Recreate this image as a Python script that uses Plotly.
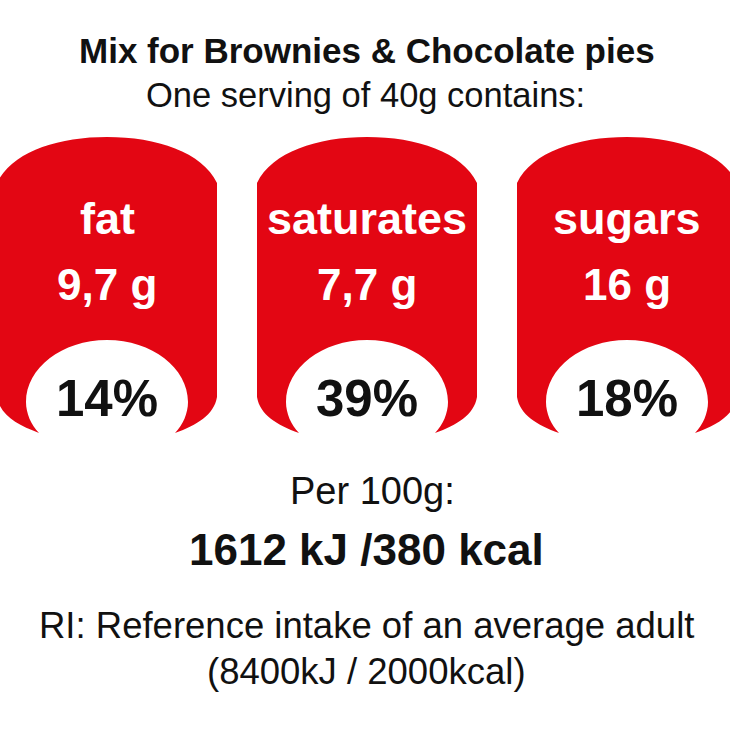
import plotly.graph_objects as go

title = "Mix for Brownies & Chocolate pies"
subtitle = "One serving of 40g contains:"
nutrients = ["fat", "saturates", "sugars"]
amounts = ["9,7 g", "7,7 g", "16 g"]
percents = ["14%", "39%", "18%"]
per_100_label = "Per 100g:"
energy = "1612 kJ /380 kcal"
ri_lines = ["RI: Reference intake of an average adult", "(8400kJ / 2000kcal)"]

RED = "#e30613"
FONT = "Liberation Sans"


def label_path(cx):
    # red can shape with the white bite at the bottom
    def p(dx, y):
        return f"{cx + dx},{y}"
    return (
        f"M {p(-110, 183)} C {p(-95, 152)} {p(-50, 137)} {p(0, 137)} "
        f"C {p(50, 137)} {p(95, 152)} {p(110, 183)} "
        f"L {p(110, 397)} C {p(107, 415)} {p(90, 425)} {p(68, 433)} "
        f"C {p(76, 425)} {p(81, 413)} {p(81, 402)} "
        f"C {p(81, 368)} {p(45, 340)} {p(0, 340)} "
        f"C {p(-45, 340)} {p(-81, 368)} {p(-81, 402)} "
        f"C {p(-81, 413)} {p(-76, 425)} {p(-68, 433)} "
        f"C {p(-90, 425)} {p(-107, 415)} {p(-110, 397)} Z"
    )


def add_text(fig, x, y, text, size, color="#111111", bold=False):
    if bold:
        text = f"<b>{text}</b>"
    fig.add_annotation(x=x, y=y, text=text, showarrow=False, xanchor="center", yanchor="middle",
                       font=dict(family=FONT, size=size, color=color))


fig = go.Figure()

add_text(fig, 367, 50, title, 35, bold=True)
add_text(fig, 365.5, 95, subtitle, 34.5)

for i, name in enumerate(nutrients):
    cx = 107 + 260 * i
    fig.add_shape(type="path", path=label_path(cx), fillcolor=RED, line_width=0, layer="below")
    add_text(fig, cx, 218, name, 45, color="white", bold=True)
    add_text(fig, cx, 284, amounts[i], 44, color="white", bold=True)
    add_text(fig, cx, 398, percents[i], 51, color="#111111", bold=True)

add_text(fig, 372.5, 491, per_100_label, 38)
add_text(fig, 366, 549, energy, 44, bold=True)
add_text(fig, 366, 625, ri_lines[0], 36.5)
add_text(fig, 366, 671, ri_lines[1], 36.5)

fig.update_xaxes(range=[0, 730], visible=False, fixedrange=True)
fig.update_yaxes(range=[730, 0], visible=False, fixedrange=True)
fig.update_layout(width=730, height=730, margin=dict(l=0, r=0, t=0, b=0),
                  paper_bgcolor="white", plot_bgcolor="white", showlegend=False)

# page margin would push the figure off by 8px
fig.write_html("out.html", config={"displayModeBar": False},
               post_script="document.body.style.margin='0';")
